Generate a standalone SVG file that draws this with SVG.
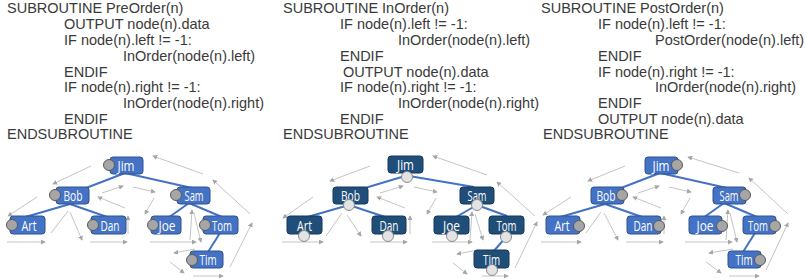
<svg xmlns="http://www.w3.org/2000/svg" width="806" height="279" viewBox="0 0 806 279">
<defs>
<marker id="ah" viewBox="0 0 6 6" refX="5" refY="3" markerWidth="5" markerHeight="5" orient="auto" markerUnits="userSpaceOnUse">
<path d="M0,0 L6,3 L0,6 z" fill="#a6a6a6"/>
</marker>
</defs>
<style>
.code{font-family:"Liberation Sans",Arial,sans-serif;font-size:14.5px;fill:#3a3a3a}
.b1{fill:#4472c4;stroke:#2f528f;stroke-width:1}
.b2{fill:#1f4e79;stroke:#17375e;stroke-width:1}
.c1{fill:#a6a6a6;stroke:#595959;stroke-width:1}
.c2{fill:#e3e3e3;stroke:#8c8c8c;stroke-width:1}
.lbl{font-family:"Open Sans","Liberation Sans",sans-serif;font-size:15px;fill:#fff;text-anchor:middle}
.edge{stroke:#4472c4;stroke-width:2;fill:none}
.trav{stroke:#c4c4c4;stroke-width:1;fill:none;marker-end:url(#ah)}
.travn{stroke:#c4c4c4;stroke-width:1;fill:none}
</style>

<g id="code-preorder">
<text class="code" x="7" y="13">SUBROUTINE PreOrder(n)</text>
<text class="code" x="64" y="29">OUTPUT node(n).data</text>
<text class="code" x="64" y="45">IF node(n).left != -1:</text>
<text class="code" x="123" y="61">InOrder(node(n).left)</text>
<text class="code" x="64" y="77">ENDIF</text>
<text class="code" x="64" y="92">IF node(n).right != -1:</text>
<text class="code" x="123" y="108">InOrder(node(n).right)</text>
<text class="code" x="64" y="124">ENDIF</text>
<text class="code" x="7" y="139">ENDSUBROUTINE</text>
</g>
<g id="code-inorder">
<text class="code" x="283" y="13">SUBROUTINE InOrder(n)</text>
<text class="code" x="340" y="29">IF node(n).left != -1:</text>
<text class="code" x="398" y="45">InOrder(node(n).left)</text>
<text class="code" x="340" y="61">ENDIF</text>
<text class="code" x="343" y="77">OUTPUT node(n).data</text>
<text class="code" x="340" y="92">IF node(n).right != -1:</text>
<text class="code" x="398" y="108">InOrder(node(n).right)</text>
<text class="code" x="340" y="124">ENDIF</text>
<text class="code" x="283" y="139">ENDSUBROUTINE</text>
</g>
<g id="code-postorder">
<text class="code" x="541" y="13">SUBROUTINE PostOrder(n)</text>
<text class="code" x="598" y="29">IF node(n).left != -1:</text>
<text class="code" x="655" y="45">PostOrder(node(n).left)</text>
<text class="code" x="598" y="61">ENDIF</text>
<text class="code" x="598" y="77">IF node(n).right != -1:</text>
<text class="code" x="655" y="92">InOrder(node(n).right)</text>
<text class="code" x="598" y="108">ENDIF</text>
<text class="code" x="598" y="124">OUTPUT node(n).data</text>
<text class="code" x="543" y="139">ENDSUBROUTINE</text>
</g>

<g id="connectors">
<!-- tree 1 edges -->
<path class="edge" d="M125,173 L86,188"/>
<path class="edge" d="M125,173 L192,188"/>
<path class="edge" d="M70,204 L22,218"/>
<path class="edge" d="M70,204 L110,218"/>
<path class="edge" d="M189,203 L168,218"/>
<path class="edge" d="M189,203 L222,217"/>
<path class="edge" d="M220,233 L208,252"/>
<!-- tree 1 traversal -->
<path class="trav" d="M91,166 L53,184"/>
<path class="trav" d="M37,197 L8,216"/>
<path class="trav" d="M7,242 L45,242"/>
<path class="travn" d="M51,233 L68,211"/>
<path class="trav" d="M70,212 L82,240"/>
<path class="trav" d="M90,242 L127,242"/>
<path class="trav" d="M128,234 L128,216"/>
<path class="trav" d="M125,208 L98,197"/>
<path class="trav" d="M102,193 L123,186"/>
<path class="trav" d="M133,187 L155,192"/>
<path class="trav" d="M154,198 L145,214"/>
<path class="trav" d="M150,242 L196,242"/>
<path class="trav" d="M190,240 L192,210"/>
<path class="trav" d="M194,213 L201,242"/>
<path class="trav" d="M195,249 L174,253"/>
<path class="trav" d="M170,262 L184,273"/>
<path class="trav" d="M193,276 L223,276"/>
<path class="trav" d="M230,267 L252,223"/>
<path class="trav" d="M250,214 L213,180"/>
<path class="trav" d="M203,174 L153,156"/>
<!-- tree 2 edges -->
<path class="edge" d="M405,176 L365,188"/>
<path class="edge" d="M409,176 L474,187"/>
<path class="edge" d="M349,205 L304,218"/>
<path class="edge" d="M349,205 L388,218"/>
<path class="edge" d="M477,205 L456,217"/>
<path class="edge" d="M477,205 L507,216"/>
<path class="edge" d="M506,237 L493,252"/>
<!-- tree 2 traversal -->
<path class="trav" d="M370,166 L330,181"/>
<path class="trav" d="M313,197 L283,218"/>
<path class="trav" d="M282,242 L323,242"/>
<path class="travn" d="M326,236 L342,213"/>
<path class="trav" d="M347,215 L361,236"/>
<path class="trav" d="M370,242 L407,242"/>
<path class="trav" d="M410,234 L410,216"/>
<path class="trav" d="M405,208 L377,197"/>
<path class="trav" d="M380,193 L403,186"/>
<path class="trav" d="M414,187 L437,192"/>
<path class="trav" d="M436,198 L427,214"/>
<path class="trav" d="M432,242 L472,242"/>
<path class="trav" d="M470,240 L472,212"/>
<path class="trav" d="M475,214 L483,240"/>
<path class="trav" d="M478,250 L457,254"/>
<path class="trav" d="M453,263 L467,274"/>
<path class="trav" d="M482,276 L508,276"/>
<path class="trav" d="M515,268 L537,222"/>
<path class="trav" d="M535,216 L497,182"/>
<path class="trav" d="M487,175 L433,156"/>
<!-- tree 3 edges -->
<path class="edge" d="M660,173 L621,188"/>
<path class="edge" d="M660,173 L727,188"/>
<path class="edge" d="M605,204 L557,218"/>
<path class="edge" d="M605,204 L645,218"/>
<path class="edge" d="M724,203 L703,218"/>
<path class="edge" d="M724,203 L757,217"/>
<path class="edge" d="M755,233 L743,252"/>
<!-- tree 3 traversal -->
<path class="trav" d="M625,166 L588,181"/>
<path class="trav" d="M571,197 L543,215"/>
<path class="trav" d="M541,242 L581,242"/>
<path class="travn" d="M586,233 L601,212"/>
<path class="trav" d="M604,213 L618,240"/>
<path class="trav" d="M626,242 L663,242"/>
<path class="trav" d="M664,234 L664,216"/>
<path class="trav" d="M661,208 L633,197"/>
<path class="trav" d="M638,193 L659,186"/>
<path class="trav" d="M669,187 L691,192"/>
<path class="trav" d="M690,198 L681,214"/>
<path class="trav" d="M685,242 L732,242"/>
<path class="trav" d="M726,240 L728,210"/>
<path class="trav" d="M730,213 L737,242"/>
<path class="trav" d="M733,249 L709,253"/>
<path class="trav" d="M706,262 L721,273"/>
<path class="trav" d="M729,276 L759,276"/>
<path class="trav" d="M766,270 L788,223"/>
<path class="trav" d="M788,214 L749,178"/>
<path class="trav" d="M739,173 L688,157"/>
</g>

<!-- tree 1 nodes (PreOrder) -->
<g id="pre-jim"><rect class="b1" x="110" y="157" width="33" height="17" rx="3"/><circle class="c1" cx="109" cy="165" r="5.5"/><text class="lbl" x="126" y="171" textLength="17" lengthAdjust="spacingAndGlyphs">Jim</text></g>
<g id="pre-bob"><rect class="b1" x="56" y="187" width="33" height="17" rx="3"/><circle class="c1" cx="55" cy="195" r="5.5"/><text class="lbl" x="73" y="201" textLength="19" lengthAdjust="spacingAndGlyphs">Bob</text></g>
<g id="pre-sam"><rect class="b1" x="177" y="187" width="33" height="17" rx="3"/><circle class="c1" cx="176" cy="195" r="5.5"/><text class="lbl" x="194" y="201" textLength="19" lengthAdjust="spacingAndGlyphs">Sam</text></g>
<g id="pre-art"><rect class="b1" x="10" y="216" width="35" height="18" rx="3"/><circle class="c1" cx="12" cy="225" r="5.5"/><text class="lbl" x="29" y="231" textLength="15" lengthAdjust="spacingAndGlyphs">Art</text></g>
<g id="pre-dan"><rect class="b1" x="91" y="216" width="35" height="18" rx="3"/><circle class="c1" cx="93" cy="225" r="5.5"/><text class="lbl" x="110" y="231" textLength="19" lengthAdjust="spacingAndGlyphs">Dan</text></g>
<g id="pre-joe"><rect class="b1" x="151" y="216" width="30" height="18" rx="3"/><circle class="c1" cx="153" cy="225" r="5.5"/><text class="lbl" x="167" y="231" textLength="17" lengthAdjust="spacingAndGlyphs">Joe</text></g>
<g id="pre-tom"><rect class="b1" x="203" y="216" width="35" height="18" rx="3"/><circle class="c1" cx="205" cy="225" r="5.5"/><text class="lbl" x="222" y="231" textLength="20" lengthAdjust="spacingAndGlyphs">Tom</text></g>
<g id="pre-tim"><rect class="b1" x="190" y="251" width="33" height="17" rx="3"/><circle class="c1" cx="192" cy="260" r="5.5"/><text class="lbl" x="208" y="265" textLength="17" lengthAdjust="spacingAndGlyphs">Tim</text></g>

<!-- tree 2 nodes (InOrder) -->
<g id="in-jim"><rect class="b2" x="388" y="156" width="35" height="17" rx="3"/><text class="lbl" x="405.5" y="170" textLength="17" lengthAdjust="spacingAndGlyphs">Jim</text><circle class="c2" cx="407" cy="177" r="5.5"/></g>
<g id="in-bob"><rect class="b2" x="333" y="187" width="35" height="17" rx="3"/><text class="lbl" x="350.5" y="201" textLength="19" lengthAdjust="spacingAndGlyphs">Bob</text><circle class="c2" cx="349" cy="205" r="5.5"/></g>
<g id="in-sam"><rect class="b2" x="460" y="187" width="34" height="17" rx="3"/><text class="lbl" x="477" y="201" textLength="19" lengthAdjust="spacingAndGlyphs">Sam</text><circle class="c2" cx="477" cy="205" r="5.5"/></g>
<g id="in-art"><rect class="b2" x="287" y="216" width="35" height="18" rx="3"/><text class="lbl" x="304.5" y="231" textLength="15" lengthAdjust="spacingAndGlyphs">Art</text><circle class="c2" cx="304" cy="236" r="5.5"/></g>
<g id="in-dan"><rect class="b2" x="372" y="216" width="34" height="18" rx="3"/><text class="lbl" x="389" y="231" textLength="19" lengthAdjust="spacingAndGlyphs">Dan</text><circle class="c2" cx="388" cy="236" r="5.5"/></g>
<g id="in-joe"><rect class="b2" x="434" y="216" width="35" height="18" rx="3"/><text class="lbl" x="451.5" y="231" textLength="17" lengthAdjust="spacingAndGlyphs">Joe</text><circle class="c2" cx="452" cy="236" r="5.5"/></g>
<g id="in-tom"><rect class="b2" x="489" y="216" width="35" height="18" rx="3"/><text class="lbl" x="506.5" y="231" textLength="20" lengthAdjust="spacingAndGlyphs">Tom</text><circle class="c2" cx="506" cy="237" r="5.5"/></g>
<g id="in-tim"><rect class="b2" x="474" y="250" width="35" height="18" rx="3"/><text class="lbl" x="491.5" y="265" textLength="17" lengthAdjust="spacingAndGlyphs">Tim</text><circle class="c2" cx="492" cy="270" r="5.5"/></g>

<!-- tree 3 nodes (PostOrder) -->
<g id="post-jim"><rect class="b1" x="645" y="157" width="33" height="17" rx="3"/><circle class="c1" cx="677" cy="165" r="5.5"/><text class="lbl" x="661" y="171" textLength="17" lengthAdjust="spacingAndGlyphs">Jim</text></g>
<g id="post-bob"><rect class="b1" x="591" y="187" width="33" height="17" rx="3"/><circle class="c1" cx="622" cy="195" r="5.5"/><text class="lbl" x="606" y="201" textLength="19" lengthAdjust="spacingAndGlyphs">Bob</text></g>
<g id="post-sam"><rect class="b1" x="713" y="187" width="33" height="17" rx="3"/><circle class="c1" cx="745" cy="195" r="5.5"/><text class="lbl" x="729" y="201" textLength="19" lengthAdjust="spacingAndGlyphs">Sam</text></g>
<g id="post-art"><rect class="b1" x="546" y="216" width="34" height="18" rx="3"/><circle class="c1" cx="579" cy="226" r="5.5"/><text class="lbl" x="562" y="231" textLength="15" lengthAdjust="spacingAndGlyphs">Art</text></g>
<g id="post-dan"><rect class="b1" x="627" y="216" width="34" height="18" rx="3"/><circle class="c1" cx="659" cy="226" r="5.5"/><text class="lbl" x="643" y="231" textLength="19" lengthAdjust="spacingAndGlyphs">Dan</text></g>
<g id="post-joe"><rect class="b1" x="689" y="216" width="33" height="18" rx="3"/><circle class="c1" cx="722" cy="226" r="5.5"/><text class="lbl" x="705" y="231" textLength="17" lengthAdjust="spacingAndGlyphs">Joe</text></g>
<g id="post-tom"><rect class="b1" x="743" y="216" width="33" height="18" rx="3"/><circle class="c1" cx="775" cy="226" r="5.5"/><text class="lbl" x="758" y="231" textLength="20" lengthAdjust="spacingAndGlyphs">Tom</text></g>
<g id="post-tim"><rect class="b1" x="728" y="251" width="33" height="17" rx="3"/><circle class="c1" cx="760" cy="260" r="5.5"/><text class="lbl" x="744" y="265" textLength="17" lengthAdjust="spacingAndGlyphs">Tim</text></g>
</svg>
